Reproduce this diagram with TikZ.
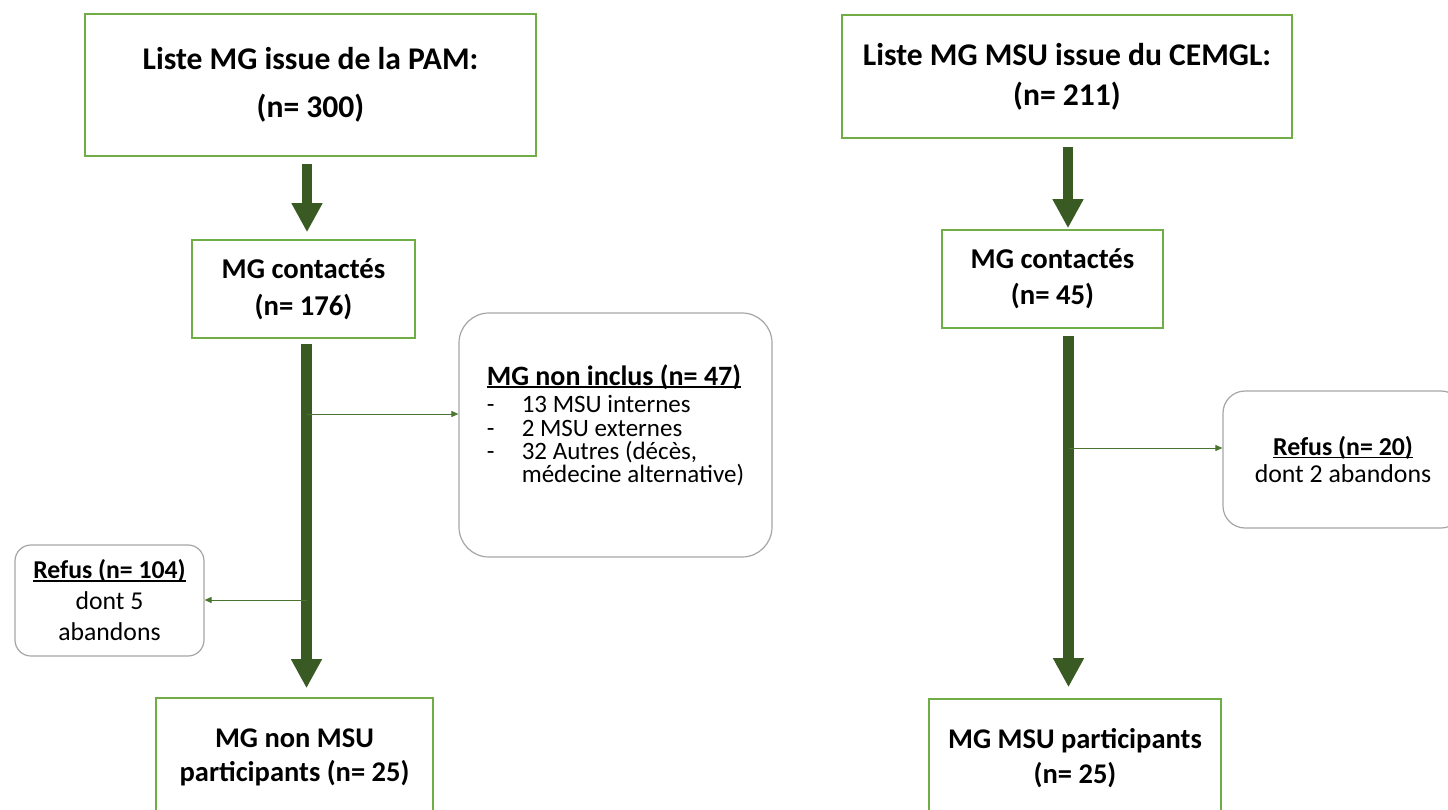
\documentclass[tikz,border=0pt]{standalone}
\usepackage{fontspec}
\setmainfont{Carlito}
\usetikzlibrary{arrows.meta,calc}
\definecolor{boxgreen}{HTML}{70AD47}
\definecolor{arrgreen}{HTML}{3A5A24}
\definecolor{thingreen}{HTML}{4A7530}
\definecolor{roundgray}{HTML}{A6A6A6}
\newcommand\ulin[1]{\setbox0=\hbox{#1}\rlap{\rule[-0.11em]{\wd0}{0.07em}}\box0}
\begin{document}
\begin{tikzpicture}[x=1pt,y=-1pt,
  gbox/.style={draw=boxgreen, line width=1.6pt, fill=white, align=center, inner sep=0pt,
    font=\bfseries\fontsize{28.7}{37}\selectfont},
  rbox/.style={draw=roundgray, line width=1.2pt, fill=white, inner sep=0pt},
  bigarrow/.style={draw=arrgreen, line width=10.5pt, -{Triangle[width=29pt,length=29pt]}},
  thinarrow/.style={draw=thingreen, line width=1pt, -{Triangle[width=6pt,length=7pt]}}]
\useasboundingbox (0,0) rectangle (1448,810);
\clip (0,0) rectangle (1448,810);
\fill[white] (0,0) rectangle (1448,810);

% left column
\node[gbox, minimum width=451pt, minimum height=142pt, font=\bfseries\fontsize{31.6}{48}\selectfont] (b1) at (310.5,85) {Liste MG issue de la PAM:\\(n= 300)};
\node[gbox, minimum width=223pt, minimum height=98pt] (b2) at (303.5,289) {MG contactés\\(n= 176)};
\node[gbox, minimum width=277pt, minimum height=118pt, font=\bfseries\fontsize{28.5}{34}\selectfont] (b3) at (294.5,757) {MG non MSU\\participants (n= 25)};
\node[rbox, rounded corners=30pt, minimum width=313pt, minimum height=244pt, align=left,
  font=\fontsize{25}{23.3}\selectfont] (ni) at (615.5,435)
  {{\fontsize{28}{28}\selectfont\bfseries\ulin{MG non inclus (n= 47)}}\\[4.5pt]
   \makebox[35pt][l]{-}13 MSU internes\\
   \makebox[35pt][l]{-}2 MSU externes\\
   \makebox[35pt][l]{-}32 Autres (décès,\\
   \hspace*{35pt}médecine alternative)\rule[-23pt]{0pt}{0pt}};
\node[rbox, rounded corners=16pt, minimum width=189pt, minimum height=111pt, align=center,
  font=\fontsize{25.7}{31}\selectfont] (r1) at (109.5,600.5)
  {\ulin{\bfseries Refus (n= 104)}\\dont 5\\abandons};

% right column
\node[gbox, minimum width=450pt, minimum height=123pt, font=\bfseries\fontsize{31.6}{40}\selectfont] (c1) at (1067,76.5) {Liste MG MSU issue du CEMGL:\\(n= 211)};
\node[gbox, minimum width=221pt, minimum height=98pt, font=\bfseries\fontsize{28.7}{36}\selectfont] (c2) at (1052.5,279) {MG contactés\\(n= 45)};
\node[gbox, minimum width=292pt, minimum height=118pt, font=\bfseries\fontsize{28.5}{35}\selectfont] (c3) at (1075,758) {MG MSU participants\\(n= 25)};
\node[rbox, rounded corners=22pt, minimum width=240pt, minimum height=137pt, align=center,
  font=\fontsize{25.8}{27}\selectfont] (r2) at (1343,459.5)
  {\ulin{\bfseries Refus (n= 20)}\\dont 2 abandons};

% thick arrows
\draw[bigarrow, shorten <=7pt] ([xshift=-3.5pt]b1.south) -- ([xshift=3.5pt,yshift=7pt]b2.north);
\draw[bigarrow, shorten <=5pt] ([xshift=3pt]b2.south) -- ([xshift=12pt,yshift=9pt]b3.north);
\draw[bigarrow, shorten <=8pt] ([xshift=1pt]c1.south) -- ([xshift=15.5pt,yshift=1pt]c2.north);
\draw[bigarrow, shorten <=7pt] ([xshift=16pt]c2.south) -- ([xshift=-6.5pt,yshift=11pt]c3.north);

% thin arrows
\coordinate (s1) at (306.5,414);
\coordinate (s2) at (306.5,600);
\coordinate (s3) at (1068.5,448);
\draw[thinarrow] (s1) -- (s1 -| ni.west);
\draw[thinarrow] (s2) -- (s2 -| r1.east);
\draw[thinarrow] (s3) -- (s3 -| r2.west);
\end{tikzpicture}
\end{document}
